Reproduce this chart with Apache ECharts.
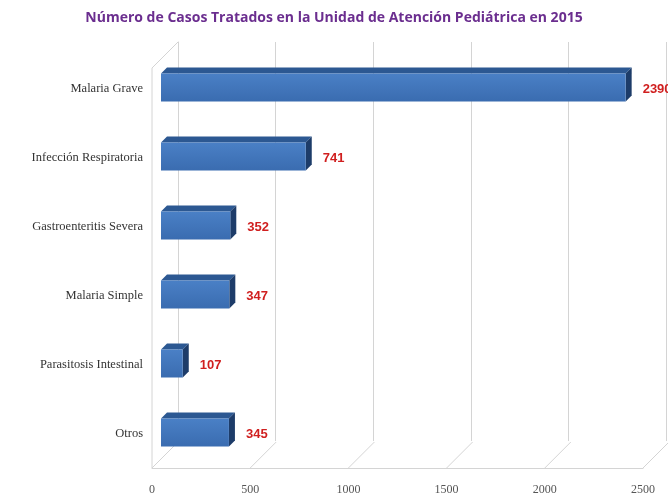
<!DOCTYPE html>
<html>
<head>
<meta charset="utf-8">
<script src="https://cdn.jsdelivr.net/npm/echarts@6/dist/echarts.min.js"></script>
<style>
  html, body { margin: 0; padding: 0; background: #fff; }
  #chart { width: 668px; height: 501px; }
</style>
</head>
<body>
<div id="chart"></div>
<script>
// datos
const categorias = ['Malaria Grave', 'Infección Respiratoria', 'Gastroenteritis Severa', 'Malaria Simple', 'Parasitosis Intestinal', 'Otros']
const casos = [2390, 741, 352, 347, 107, 345]
const ticksX = [0, 500, 1000, 1500, 2000, 2500]

const myChart = echarts.init(document.getElementById('chart'))

const frameColor = '#d4d4d4'
const dx = 26, dy = 26

// barra con aspecto 3D (cara frontal, superior y lateral)
function renderBar(params, api) {
  const idx = api.value(1)
  const val = api.value(0)
  const p0 = api.coord([0, idx])
  const p1 = api.coord([val, idx])
  const c = p0[1]
  const d = 6
  const x0 = p0[0] - 1
  const x1 = Math.max(p1[0], x0 + 4)
  const y0 = c - 15
  const y1 = c + 13
  return {
    type: 'group',
    children: [
      {
        type: 'polygon',
        shape: { points: [[x0, y0], [x0 + d, y0 - d], [x1 + d, y0 - d], [x1, y0]] },
        style: { fill: '#2c5892' }
      },
      {
        type: 'polygon',
        shape: { points: [[x1, y0], [x1 + d, y0 - d], [x1 + d, y1 - d], [x1, y1]] },
        style: { fill: '#1d3c69' }
      },
      {
        type: 'rect',
        shape: { x: x0, y: y0, width: x1 - x0, height: y1 - y0 },
        style: {
          fill: new echarts.graphic.LinearGradient(0, 0, 0, 1, [
            { offset: 0, color: '#4a80c6' },
            { offset: 1, color: '#3a6cb0' }
          ])
        }
      },
      {
        type: 'text',
        x: x1 + d + 11,
        y: p1[1] + 1,
        style: {
          text: String(val),
          fill: '#d01f1f',
          font: 'bold 13px "Liberation Sans"',
          verticalAlign: 'middle'
        }
      }
    ]
  }
}

// lineas del suelo y de la pared izquierda (perspectiva)
function renderFrame(params, api) {
  const t = api.value(0)
  const cs = params.coordSys
  const bottom = cs.y + cs.height
  const x = api.coord([t, 0])[0]
  const children = [{
    type: 'line',
    shape: { x1: x, y1: bottom, x2: x + dx, y2: bottom - dy },
    style: { stroke: frameColor, lineWidth: 1 }
  }]
  if (t === 0) {
    children.push({
      type: 'line',
      shape: { x1: x, y1: cs.y + 14, x2: x, y2: bottom },
      style: { stroke: frameColor, lineWidth: 1 }
    })
    children.push({
      type: 'line',
      shape: { x1: x, y1: cs.y + 14, x2: x + dx, y2: cs.y + 14 - dy },
      style: { stroke: frameColor, lineWidth: 1 }
    })
  }
  return { type: 'group', children: children }
}

myChart.setOption({
  animation: false,
  title: {
    text: 'Número de Casos Tratados en la Unidad de Atención Pediátrica en 2015',
    left: 'center',
    top: 6,
    textStyle: { color: '#6b2e8f', fontSize: 14, fontWeight: 'bold', fontFamily: 'Open Sans' }
  },
  grid: [
    { left: 152, right: 25, top: 54, bottom: 33 },   // plano frontal
    { left: 178, right: 2, top: 42, bottom: 60 },    // pared del fondo
    { left: 162, right: 21, top: 54, bottom: 33 }    // barras
  ],
  xAxis: [
    {
      gridIndex: 0,
      type: 'value',
      min: ticksX[0],
      max: ticksX[ticksX.length - 1],
      interval: 500,
      axisLine: { show: true, lineStyle: { color: frameColor } },
      axisTick: { show: false },
      splitLine: { show: false },
      axisLabel: {
        color: '#555', fontFamily: 'Liberation Serif', fontSize: 12, margin: 16,
        formatter: v => String(v)
      }
    },
    {
      gridIndex: 1,
      type: 'value',
      min: ticksX[0],
      max: ticksX[ticksX.length - 1],
      interval: 500,
      axisLine: { show: false },
      axisTick: { show: false },
      axisLabel: { show: false },
      splitLine: { show: true, lineStyle: { color: frameColor } }
    },
    {
      gridIndex: 2,
      type: 'value',
      min: ticksX[0],
      max: ticksX[ticksX.length - 1],
      show: false
    }
  ],
  yAxis: [
    {
      gridIndex: 0,
      type: 'category',
      inverse: true,
      data: categorias,
      axisLine: { show: false },
      axisTick: { show: false },
      axisLabel: { color: '#333', fontFamily: 'Liberation Serif', fontSize: 12.5, margin: 9 }
    },
    {
      gridIndex: 1,
      type: 'value',
      axisLine: { show: true, lineStyle: { color: frameColor } },
      axisTick: { show: false },
      axisLabel: { show: false },
      splitLine: { show: false }
    },
    {
      gridIndex: 2,
      type: 'category',
      inverse: true,
      data: categorias,
      show: false
    }
  ],
  series: [
    {
      type: 'custom',
      xAxisIndex: 0,
      yAxisIndex: 0,
      renderItem: renderFrame,
      clip: false,
      silent: true,
      z: 1,
      encode: { x: 0 },
      data: ticksX.map(t => [t])
    },
    {
      type: 'custom',
      xAxisIndex: 2,
      yAxisIndex: 2,
      renderItem: renderBar,
      clip: false,
      z: 5,
      encode: { x: 0, y: 1 },
      data: casos.map((v, i) => [v, i])
    }
  ]
})
</script>
</body>
</html>
